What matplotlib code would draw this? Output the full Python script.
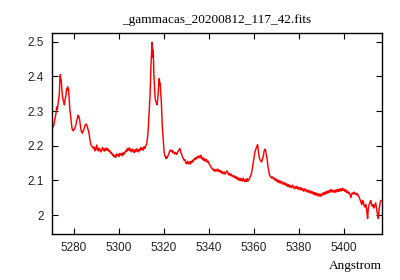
import matplotlib
matplotlib.use('Agg')

import matplotlib.pyplot as plt
import numpy as np
from matplotlib.ticker import FuncFormatter

# ---------------------------
# DATA
# ---------------------------
title = "_gammacas_20200812_117_42.fits"
xlabel = "Angstrom"

wave = [
    5270.2, 5270.8, 5271.1, 5271.5, 5271.9, 5272.3, 5272.6, 5273.0, 5273.3, 5273.5,
    5273.7, 5273.9, 5274.1, 5274.3, 5274.6, 5274.8, 5275.0, 5275.2, 5275.5, 5275.7,
    5275.9, 5276.1, 5276.4, 5276.7, 5276.9, 5277.2, 5277.4, 5277.6, 5277.9, 5278.1,
    5278.4, 5278.6, 5278.9, 5279.1, 5279.4, 5279.7, 5280.0, 5280.3, 5280.6, 5280.9,
    5281.2, 5281.5, 5281.8, 5282.1, 5282.5, 5282.8, 5283.1, 5283.4, 5283.7, 5284.0,
    5284.3, 5284.6, 5284.9, 5285.2, 5285.5, 5285.9, 5286.2, 5286.5, 5286.8, 5287.1,
    5287.4, 5287.7, 5288.0, 5288.3,
    5288.6, 5289.0, 5289.3, 5289.7, 5290.1, 5290.4, 5290.8, 5291.1, 5291.5, 5291.9,
    5292.3, 5292.6, 5293.0, 5293.4, 5293.8, 5294.1, 5294.5, 5294.9, 5295.2, 5295.6,
    5296.0, 5296.3, 5296.7, 5297.1, 5297.5, 5297.8, 5298.2, 5298.5, 5298.9, 5299.3,
    5299.7, 5300.0, 5300.4, 5300.8, 5301.2, 5301.5, 5301.9, 5302.2, 5302.6, 5303.0,
    5303.4, 5303.7, 5304.1, 5304.5, 5304.9, 5305.2, 5305.6, 5306.0, 5306.3, 5306.7,
    5307.1, 5307.4, 5307.8, 5308.2, 5308.6, 5308.9, 5309.3, 5309.7, 5310.1, 5310.4,
    5310.8, 5311.1, 5311.5, 5311.9, 5312.3, 5312.7, 5313.0,
    5313.4, 5313.8, 5314.0, 5314.2, 5314.5, 5314.7, 5314.9, 5315.0, 5315.2, 5315.4,
    5315.5, 5315.8, 5316.0, 5316.2, 5316.4, 5316.7, 5316.9, 5317.2, 5317.5, 5317.7,
    5317.9, 5318.1, 5318.3, 5318.5, 5318.8, 5319.0, 5319.2, 5319.5, 5319.7, 5320.0,
    5320.3, 5320.6, 5320.9, 5321.1, 5321.4, 5321.8, 5322.2, 5322.5, 5322.9, 5323.3,
    5323.7, 5324.0, 5324.4, 5324.8, 5325.2, 5325.5, 5325.9, 5326.2, 5326.6, 5327.0,
    5327.2, 5327.5, 5327.8, 5328.2, 5328.6, 5328.9, 5329.3, 5329.7, 5330.1, 5330.5,
    5330.8, 5331.2, 5331.6, 5332.0, 5332.3, 5332.7, 5333.0, 5333.4, 5333.8, 5334.1,
    5334.5, 5334.9, 5335.2, 5335.6, 5336.0, 5336.4, 5336.7, 5337.1, 5337.4, 5337.8,
    5338.1, 5338.5, 5338.9, 5339.3, 5339.7, 5340.0, 5340.4, 5340.8, 5341.1, 5341.4,
    5341.8, 5342.2, 5342.6, 5343.0, 5343.4, 5343.8, 5344.1, 5344.5, 5344.9, 5345.2,
    5345.6, 5345.9, 5346.3, 5346.7, 5347.1, 5347.5, 5347.9, 5348.3, 5348.7, 5349.1,
    5349.5, 5349.9, 5350.3, 5350.8, 5351.2, 5351.6, 5351.9, 5352.3, 5352.7, 5353.0,
    5353.4, 5353.8, 5354.2, 5354.5, 5354.9, 5355.2, 5355.6, 5356.0, 5356.3, 5356.7,
    5357.0, 5357.4, 5357.8, 5358.2, 5358.6, 5359.0, 5359.4, 5359.7, 5360.1, 5360.4,
    5360.8, 5361.2, 5361.6, 5361.9, 5362.2, 5362.5, 5362.8, 5363.1, 5363.4, 5363.8,
    5364.2, 5364.5, 5364.8, 5365.1, 5365.3, 5365.6, 5365.9, 5366.2, 5366.5, 5366.8,
    5367.1, 5367.5, 5367.8, 5368.2, 5368.6, 5369.0, 5369.4, 5369.8, 5370.2, 5370.6,
    5370.8, 5371.2, 5371.6, 5372.0, 5372.3, 5372.7, 5373.1, 5373.5, 5373.8, 5374.2,
    5374.6, 5375.0, 5375.4, 5375.8, 5376.2, 5376.7, 5377.1, 5377.5, 5377.9, 5378.2,
    5378.6, 5379.0, 5379.4, 5379.7, 5380.1, 5380.5, 5380.9, 5381.2, 5381.6, 5382.0,
    5382.3, 5382.6, 5383.0, 5383.4, 5383.8, 5384.1, 5384.5, 5384.9, 5385.2, 5385.6,
    5386.0, 5386.4, 5386.7, 5387.1, 5387.5, 5387.9, 5388.2, 5388.6, 5389.0, 5389.4,
    5389.7, 5390.1, 5390.5, 5390.9, 5391.2, 5391.5, 5391.9, 5392.3, 5392.6, 5393.0,
    5393.4, 5393.8, 5394.1, 5394.5, 5394.9, 5395.2, 5395.6, 5396.0, 5396.4, 5396.7,
    5397.1, 5397.5, 5397.9, 5398.2, 5398.6, 5399.0, 5399.4, 5399.7, 5400.1, 5400.4,
    5400.8, 5401.2, 5401.5, 5401.9, 5402.3, 5402.7, 5403.1, 5403.4, 5403.7, 5404.1,
    5404.5, 5404.9, 5405.3, 5405.7, 5406.0, 5406.4, 5406.7, 5407.1, 5407.5, 5407.9,
    5408.2, 5408.6, 5408.9, 5409.3, 5409.7, 5410.1, 5410.5, 5410.8, 5411.1, 5411.5,
    5411.9, 5412.2, 5412.6, 5413.0, 5413.3, 5413.7, 5414.1, 5414.4, 5414.7, 5415.0,
    5415.3, 5415.6, 5415.9, 5416.2, 5416.5,
]

flux = [
    2.250, 2.255, 2.262, 2.279, 2.290, 2.312, 2.305, 2.327, 2.340, 2.355,
    2.395, 2.405, 2.392, 2.390, 2.360, 2.346, 2.338, 2.330, 2.325, 2.318,
    2.330, 2.335, 2.345, 2.365, 2.360, 2.370, 2.365, 2.360, 2.330, 2.307,
    2.290, 2.280, 2.262, 2.250, 2.245, 2.243, 2.246, 2.250, 2.255, 2.262,
    2.272, 2.279, 2.288, 2.285, 2.275, 2.258, 2.245, 2.240, 2.236, 2.242,
    2.245, 2.252, 2.259, 2.262, 2.262, 2.255, 2.248, 2.240, 2.230, 2.216,
    2.205, 2.200, 2.198, 2.195,
    2.192, 2.196, 2.185, 2.190, 2.202, 2.188, 2.185, 2.193, 2.190, 2.182,
    2.187, 2.195, 2.190, 2.184, 2.192, 2.187, 2.193, 2.186, 2.190, 2.183,
    2.185, 2.178, 2.180, 2.172, 2.175, 2.168, 2.172, 2.166, 2.176, 2.171,
    2.175, 2.169, 2.178, 2.173, 2.177, 2.171, 2.180, 2.175, 2.180, 2.186,
    2.183, 2.192, 2.187, 2.194, 2.185, 2.190, 2.182, 2.190, 2.186, 2.180,
    2.188, 2.183, 2.191, 2.185, 2.182, 2.190, 2.186, 2.195, 2.189, 2.193,
    2.187, 2.197, 2.192, 2.200, 2.205, 2.226, 2.250,
    2.300, 2.346, 2.390, 2.433, 2.470, 2.498, 2.480, 2.455, 2.475, 2.430,
    2.404, 2.365, 2.341, 2.330, 2.327, 2.322, 2.318, 2.335, 2.360, 2.385,
    2.394, 2.375, 2.380, 2.355, 2.327, 2.290, 2.259, 2.230, 2.211, 2.185,
    2.172, 2.168, 2.163, 2.168, 2.165, 2.172, 2.177, 2.184, 2.188, 2.183,
    2.186, 2.179, 2.182, 2.176, 2.180, 2.175, 2.178, 2.184, 2.187, 2.192,
    2.188, 2.180, 2.176, 2.168, 2.163, 2.158, 2.160, 2.150, 2.148, 2.155,
    2.148, 2.153, 2.147, 2.155, 2.151, 2.158, 2.154, 2.162, 2.160, 2.166,
    2.162, 2.169, 2.166, 2.171, 2.164, 2.172, 2.166, 2.160, 2.165, 2.157,
    2.162, 2.155, 2.160, 2.152, 2.155, 2.148, 2.144, 2.140, 2.136, 2.134,
    2.130, 2.132, 2.126, 2.131, 2.127, 2.133, 2.126, 2.130, 2.124, 2.128,
    2.121, 2.125, 2.119, 2.124, 2.118, 2.122, 2.127, 2.124, 2.116, 2.120,
    2.114, 2.118, 2.111, 2.114, 2.108, 2.112, 2.106, 2.110, 2.102, 2.107,
    2.100, 2.106, 2.099, 2.104, 2.098, 2.106, 2.100, 2.096, 2.103, 2.097,
    2.105, 2.098, 2.104, 2.108, 2.115, 2.124, 2.140, 2.153, 2.170, 2.182,
    2.190, 2.197, 2.203, 2.185, 2.172, 2.162, 2.158, 2.155, 2.153, 2.162,
    2.172, 2.185, 2.190, 2.188, 2.180, 2.168, 2.158, 2.140, 2.129, 2.118,
    2.113, 2.109, 2.107, 2.110, 2.104, 2.107, 2.100, 2.104, 2.097, 2.101,
    2.094, 2.099, 2.092, 2.098, 2.093, 2.089, 2.095, 2.088, 2.092, 2.085,
    2.090, 2.082, 2.088, 2.080, 2.085, 2.079, 2.086, 2.081, 2.076, 2.082,
    2.077, 2.083, 2.075, 2.080, 2.074, 2.079, 2.072, 2.078, 2.073, 2.069,
    2.076, 2.070, 2.074, 2.067, 2.072, 2.066, 2.071, 2.064, 2.069, 2.063,
    2.067, 2.060, 2.065, 2.058, 2.064, 2.057, 2.062, 2.055, 2.061, 2.054,
    2.060, 2.056, 2.063, 2.058, 2.065, 2.060, 2.067, 2.062, 2.069, 2.064,
    2.071, 2.066, 2.073, 2.067, 2.072, 2.066, 2.071, 2.065, 2.072, 2.067,
    2.074, 2.068, 2.075, 2.069, 2.076, 2.070, 2.077, 2.071, 2.074, 2.068,
    2.073, 2.065, 2.069, 2.062, 2.066, 2.058, 2.050, 2.060, 2.064, 2.061,
    2.066, 2.060, 2.063, 2.058, 2.061, 2.055, 2.052, 2.045, 2.038, 2.030,
    2.042, 2.039, 2.028, 2.023, 2.030, 2.013, 1.990, 2.020, 2.028, 2.036,
    2.042, 2.032, 2.025, 2.030, 2.020, 2.028, 2.035, 2.022, 2.010, 1.998,
    1.990, 2.015, 2.028, 2.040, 2.042,
]

xticks = [5280, 5300, 5320, 5340, 5360, 5380, 5400]
yticks = [2.0, 2.1, 2.2, 2.3, 2.4, 2.5]

# ---------------------------
# FIGURE
# ---------------------------
fig = plt.figure(figsize=(4.0, 2.8), dpi=100)
ax = fig.add_axes([0.13, 0.164, 0.825, 0.718])

ax.plot(wave, flux, color='red', lw=1.05)

ax.set_xlim(5270.2, 5416.9)
ax.set_ylim(1.945, 2.525)
ax.set_xticks(xticks)
ax.set_yticks(yticks)
ax.yaxis.set_major_formatter(FuncFormatter(lambda v, p: "%g" % v))

ax.tick_params(direction='in', length=4, width=0.8, top=True, right=True,
               labelsize=8.5, colors='black', pad=6)
for lab in ax.get_xticklabels() + ax.get_yticklabels():
    lab.set_family('Liberation Sans')
    lab.set_color('#222222')
for s in ax.spines.values():
    s.set_linewidth(1.0)

ax.set_title(title, family='Liberation Serif', fontsize=9.5, pad=7)
ax.set_xlabel(xlabel, family='Liberation Serif', fontsize=9.5, labelpad=2)
ax.xaxis.set_label_coords(1.0, -0.13)
ax.xaxis.label.set_ha('right')

fig.savefig('out.png', dpi=100)
